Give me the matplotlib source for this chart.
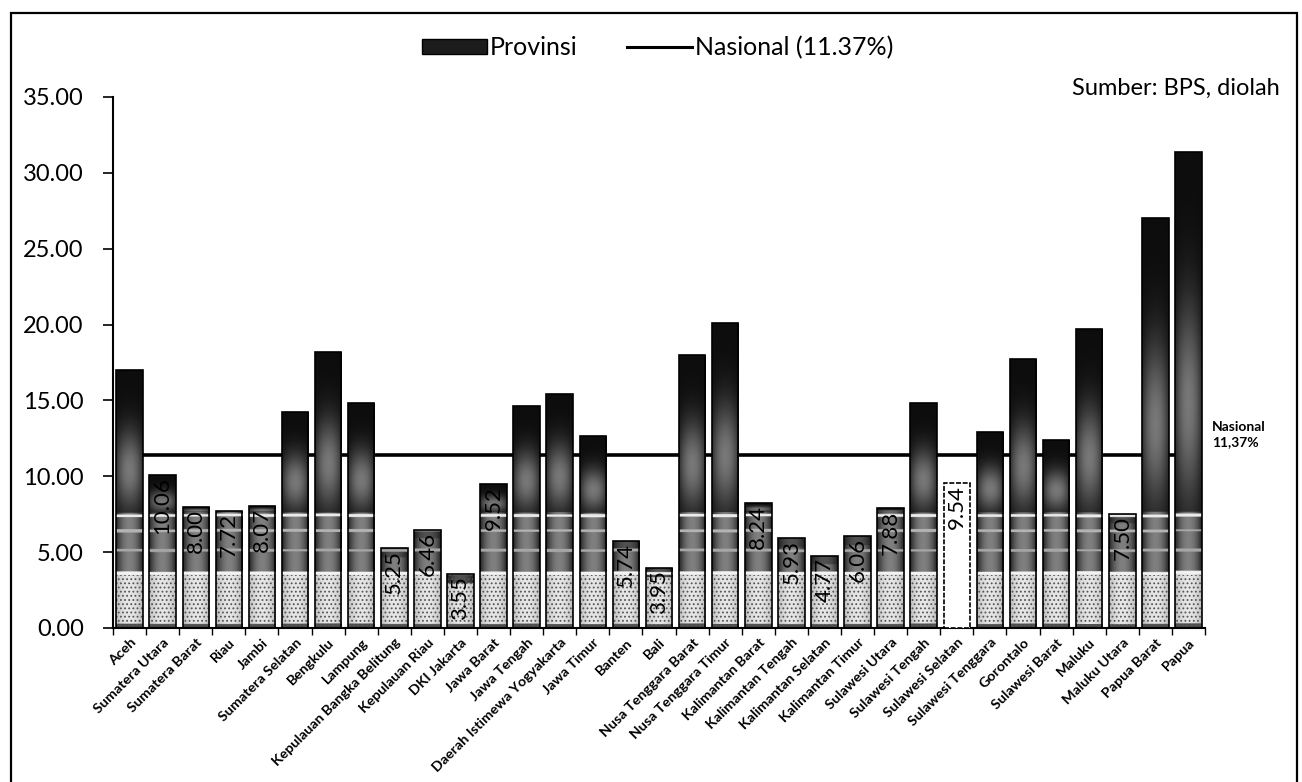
import numpy as np
import matplotlib
matplotlib.use("Agg")
import matplotlib.pyplot as plt
from matplotlib.patches import Patch, Rectangle
from matplotlib.lines import Line2D

plt.rcParams['font.family'] = ['Lato', 'DejaVu Sans']
plt.rcParams['hatch.linewidth'] = 0.8

# persentase penduduk miskin per provinsi
provinsi = ["Aceh", "Sumatera Utara", "Sumatera Barat", "Riau", "Jambi",
            "Sumatera Selatan", "Bengkulu", "Lampung", "Kepulauan Bangka Belitung",
            "Kepulauan Riau", "DKI Jakarta", "Jawa Barat", "Jawa Tengah",
            "Daerah Istimewa Yogyakarta", "Jawa Timur", "Banten", "Bali",
            "Nusa Tenggara Barat", "Nusa Tenggara Timur", "Kalimantan Barat",
            "Kalimantan Tengah", "Kalimantan Selatan", "Kalimantan Timur",
            "Sulawesi Utara", "Sulawesi Tengah", "Sulawesi Selatan",
            "Sulawesi Tenggara", "Gorontalo", "Sulawesi Barat", "Maluku",
            "Maluku Utara", "Papua Barat", "Papua"]
persen = [17.00, 10.06, 8.00, 7.72, 8.07, 14.24, 18.20, 14.80, 5.25, 6.46,
          3.55, 9.52, 14.60, 15.45, 12.65, 5.74, 3.95, 18.00, 20.10, 8.24,
          5.93, 4.77, 6.06, 7.88, 14.80, 9.54, 12.90, 17.70, 12.40, 19.70,
          7.50, 27.00, 31.40]
nasional = 11.37
yticks = [0, 5, 10, 15, 20, 25, 30, 35]

W = 0.8


def bar_shade(h, ny=300, nx=40):
    # dark top, lighter middle, banded lower part
    y = np.linspace(0, h, ny)[:, None]
    cx = np.linspace(-1, 1, nx)[None, :]
    hl = 1 - cx**2
    if h > 7.6:
        frac = np.clip((y - 7.6) / (h - 7.6), 0, 1)
        p = np.exp(-((frac - 0.3) / 0.28)**2)
        top = 0.05 + (0.14 + 0.28 * hl) * p
    else:
        top = 0.3 + 0.3 * hl + 0 * y
    mid = 0.14 + 0.36 * hl + 0 * y
    low = 0.74 + 0.16 * hl + 0 * y
    g = np.where(y > 7.6, top, np.where(y > 3.7, mid, low))
    # darker cap on short bars
    if h <= 7.6:
        g = np.where(y > h - 0.6, 0.12 + 0.2 * hl, g)
    # light streaks across the bars
    for yl, c in ((7.4, 0.92), (6.4, 0.7), (5.1, 0.65), (3.6, 0.95)):
        g = np.where(np.abs(y - yl) < 0.09, c, g)
    g = np.where(y < 0.25, 0.3, g)
    return g


fig = plt.figure(figsize=(13.02, 7.82), dpi=100)
ax = fig.add_axes([0.0868, 0.197, 0.8387, 0.679])

x = np.arange(len(provinsi))

ax.plot([x[0], x[-1]], [nasional, nasional], color='black', lw=2.6, zorder=1)

bars = ax.bar(x, persen, W, facecolor='none', edgecolor='black', lw=1.2, zorder=4)
for i, (b, v) in enumerate(zip(bars, persen)):
    if provinsi[i] == "Sulawesi Selatan":
        b.set_facecolor('white')
        b.set_linestyle((0, (3, 1)))
        continue
    im = ax.imshow(bar_shade(v), cmap='gray', vmin=0, vmax=1, origin='lower',
                   extent=[x[i] - W / 2, x[i] + W / 2, 0, v], aspect='auto',
                   interpolation='bilinear', zorder=2)
    im.set_clip_path(b)

low = [min(v, 3.5) for v in persen]
dots = ax.bar(x, low, W, facecolor='none', edgecolor='#555555', hatch='....',
              lw=0, zorder=3)
dots[provinsi.index("Sulawesi Selatan")].set_visible(False)

for i, v in enumerate(persen):
    if v < 10.5:
        ax.text(x[i], v - 0.15, f"{v:.2f}", rotation=90, ha='center', va='top',
                fontsize=16, color='black', zorder=5)

ax.set_xlim(-0.5, len(provinsi) - 0.5)
ax.set_ylim(0, 35)
ax.set_yticks(yticks)
ax.set_yticklabels([f"{t:.2f}" for t in yticks], fontsize=17)
ax.set_xticks(x)
ax.set_xticklabels(provinsi, rotation=45, ha='right', rotation_mode='anchor',
                   fontsize=10.3, fontweight='bold')
ax.set_xticks(np.arange(-0.5, len(provinsi)), minor=True)
ax.tick_params(axis='x', which='major', length=0, pad=6)
ax.tick_params(axis='x', which='minor', length=5, width=1)
ax.tick_params(axis='y', length=7, width=1.2, pad=14)
for s in ('top', 'right'):
    ax.spines[s].set_visible(False)
ax.spines['left'].set_linewidth(1.5)
ax.spines['bottom'].set_linewidth(1.5)

handles = [Patch(facecolor='#1c1c1c', edgecolor='black'),
           Line2D([0], [0], color='black', lw=2.2)]
fig.legend(handles, ["Provinsi", "Nasional (11.37%)"], loc='center',
           bbox_to_anchor=(0.505, 0.939), ncol=2, frameon=False, fontsize=18,
           handlelength=2.6, handleheight=0.6, handletextpad=0.1, columnspacing=2.0)

fig.text(0.983, 0.887, "Sumber: BPS, diolah", ha='right', va='center', fontsize=17)
fig.text(0.931, 0.444, "Nasional\n11,37%", ha='left', va='center', fontsize=10,
         fontweight='bold', linespacing=1.3)

fig.patches.append(Rectangle((0.0085, -0.01), 0.988, 0.993, transform=fig.transFigure,
                             fill=False, edgecolor='black', lw=1.6))

fig.savefig("out.png", dpi=100)
